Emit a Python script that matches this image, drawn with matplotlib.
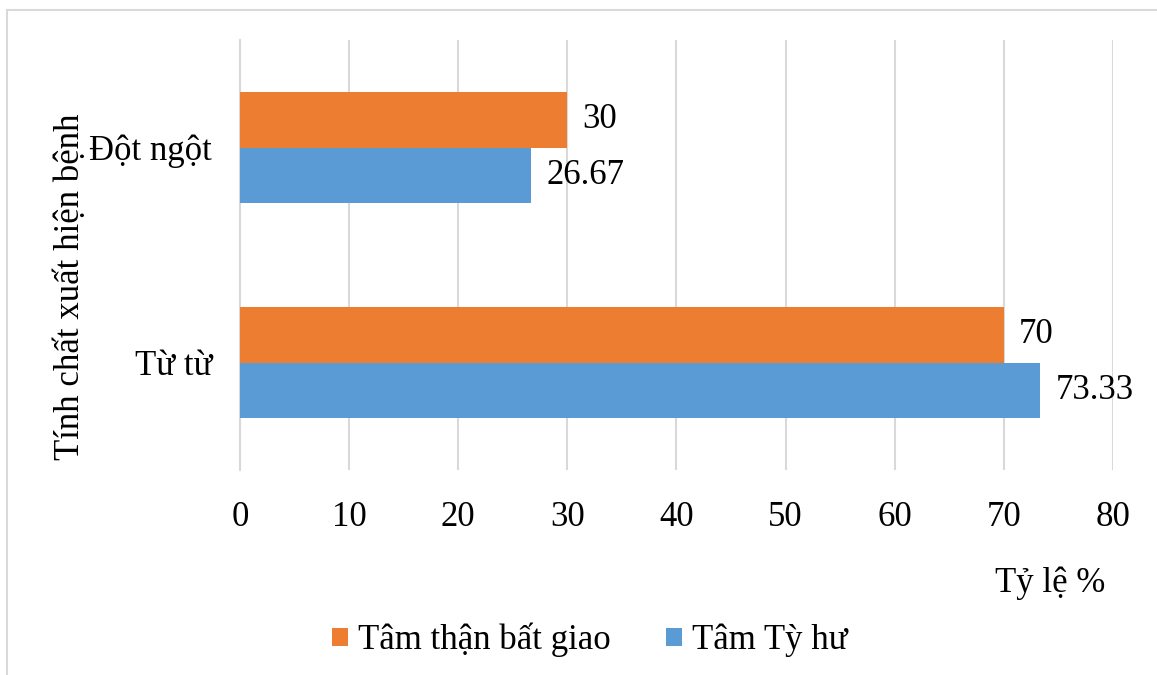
import numpy as np
import matplotlib
matplotlib.use("Agg")
import matplotlib.pyplot as plt
from matplotlib.patches import Rectangle

plt.rcParams['font.family'] = ['Liberation Serif', 'DejaVu Serif']

# --- data
categories = ["Từ từ", "Đột ngột"]
series_names = ["Tâm thận bất giao", "Tâm Tỳ hư"]
tam_than_bat_giao = [70, 30]
tam_ty_hu = [73.33, 26.67]
value_labels_orange = ["70", "30"]
value_labels_blue = ["73.33", "26.67"]
x_ticks = [0, 10, 20, 30, 40, 50, 60, 70, 80]

orange = "#ED7D31"
blue = "#5B9BD5"
grid_col = "#D9D9D9"
fs = 25

fig = plt.figure(figsize=(11.57, 6.75), dpi=100)
ax = fig.add_axes([0.2074, 0.3037, 0.962 - 0.2074, 0.9407 - 0.3037])

y = np.arange(len(categories))
h = 0.26
b1 = ax.barh(y + h / 2, tam_than_bat_giao, height=h, color=orange, label=series_names[0], zorder=3)
b2 = ax.barh(y - h / 2, tam_ty_hu, height=h, color=blue, label=series_names[1], zorder=3)

for bars, labs in [(b1, value_labels_orange), (b2, value_labels_blue)]:
    for bar, lab in zip(bars, labs):
        ax.text(bar.get_width() + 1.4, bar.get_y() + bar.get_height() / 2, lab,
                ha="left", va="center", fontsize=fs, color="black")

ax.set_xlim(0, 80)
ax.set_ylim(-0.5, 1.5)
ax.set_xticks(x_ticks)
ax.set_xticklabels([str(t) for t in x_ticks], fontsize=fs)
ax.set_yticks(y)
ax.set_yticklabels(categories, fontsize=fs)
ax.tick_params(axis="both", length=0)
ax.tick_params(axis="x", pad=22)
ax.tick_params(axis="y", pad=20)
ax.xaxis.grid(True, color=grid_col, linewidth=1.5, zorder=0)
ax.set_axisbelow(True)
for s in ["top", "right", "bottom"]:
    ax.spines[s].set_visible(False)
ax.spines["left"].set_color(grid_col)
ax.spines["left"].set_linewidth(1.5)

fig.text(1050 / 1157, 1 - 583 / 675, "Tỷ lệ %", ha="center", va="center", fontsize=fs)
fig.text(71 / 1157, 1 - 287 / 675, "Tính chất xuất hiện bệnh", ha="center", va="center",
         rotation=90, fontsize=25)

fig.legend(handles=[b1, b2], loc="center", bbox_to_anchor=(590 / 1157, 1 - 640 / 675),
           ncol=2, frameon=False, fontsize=fs, handlelength=0.45, handleheight=0.45,
           handletextpad=0.3, columnspacing=1.6)

# thin gray frame (top and left edges visible)
fig.patches.append(Rectangle((7 / 1157, -0.1), 1.2, 1 - 10 / 675 + 0.1, transform=fig.transFigure,
                             fill=False, edgecolor="#D9D9D9", linewidth=1.5))

fig.savefig("out.png", dpi=100)
